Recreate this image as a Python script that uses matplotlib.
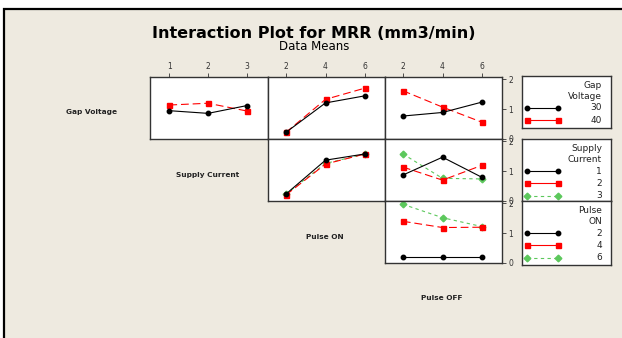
import matplotlib
matplotlib.use('Agg')
import matplotlib.pyplot as plt
from matplotlib.patches import Rectangle
from matplotlib.lines import Line2D

# factor levels
gap_voltage = [30, 40]
supply_current = [1, 2, 3]
pulse_on = [2, 4, 6]
pulse_off = [2, 4, 6]

# MRR data means, one list per trace level
# row 1: Gap Voltage traces
gv_by_sc = [[0.95, 0.86, 1.12], [1.14, 1.20, 0.94]]
gv_by_pon = [[0.22, 1.21, 1.45], [0.22, 1.33, 1.71]]
gv_by_poff = [[0.77, 0.89, 1.24], [1.62, 1.07, 0.56]]
# row 2: Supply Current traces
sc_by_pon = [[0.23, 1.37, 1.58], [0.20, 1.24, 1.58], [0.23, 1.26, 1.58]]
sc_by_poff = [[0.87, 1.47, 0.79], [1.14, 0.70, 1.20], [1.58, 0.76, 0.74]]
# row 3: Pulse ON traces
pon_by_poff = [[0.19, 0.19, 0.19], [1.40, 1.19, 1.20], [1.97, 1.52, 1.22]]

W, H = 622, 338
BG = '#EEEAE0'
EDGE = '#333333'
styles = [
    dict(color='black', ls='-', marker='o', ms=3.2, lw=0.8),
    dict(color='#FF0000', ls=(0, (7, 3.5)), marker='s', ms=3.6, lw=0.8),
    dict(color='#5CC85C', ls=(0, (3, 3)), marker='D', ms=3.4, lw=0.8),
]


def fbox(x0, y0, x1, y1):
    # pixel box (top-left origin) -> figure fraction rect
    return [x0 / W, 1 - y1 / H, (x1 - x0) / W, (y1 - y0) / H]


fig = plt.figure(figsize=(W / 100, H / 100), dpi=100)
fig.patch.set_facecolor('white')
fig.patches.append(Rectangle((4 / W, -0.1), 1.2, 1 - 9 / H + 0.1,
                             transform=fig.transFigure, facecolor=BG,
                             edgecolor='black', lw=1.6, zorder=-5))

fig.text(314 / W, 1 - 33 / H, 'Interaction Plot for MRR (mm3/min)',
         ha='center', va='center', fontsize=11.5, fontweight='bold')
fig.text(314 / W, 1 - 47 / H, 'Data Means', ha='center', va='center', fontsize=8.5)

col_x = [150, 268, 385, 502]
row_y = [77, 139, 201, 263]
x_levels = [supply_current, pulse_on, pulse_off]
x_lims = [(0.5, 3.55), (1.1, 7.0), (1.1, 7.0)]

panels = {
    (0, 0): gv_by_sc, (0, 1): gv_by_pon, (0, 2): gv_by_poff,
    (1, 1): sc_by_pon, (1, 2): sc_by_poff,
    (2, 2): pon_by_poff,
}

for (r, c), traces in panels.items():
    ax = fig.add_axes(fbox(col_x[c], row_y[r], col_x[c + 1], row_y[r + 1]))
    ax.set_facecolor('white')
    for i, ys in enumerate(traces):
        ax.plot(x_levels[c], ys, **styles[i], zorder=3 - i)
    ax.set_xlim(*x_lims[c])
    ax.set_ylim(0, 2.08)
    for s in ax.spines.values():
        s.set_color(EDGE)
        s.set_linewidth(1.0)
    if r == 0:
        ax.xaxis.tick_top()
        ax.set_xticks(x_levels[c])
        ax.tick_params(axis='x', length=3, width=0.6, pad=1, labelsize=5.5,
                       colors=EDGE)
    else:
        ax.set_xticks([])
    if c == 2:
        ax.yaxis.tick_right()
        ax.set_yticks([0, 1, 2])
        ax.tick_params(axis='y', length=3, width=0.6, pad=1.5, labelsize=5.5,
                       colors=EDGE)
    else:
        ax.set_yticks([])

# factor names on the diagonal
diag_names = ['Gap Voltage', 'Supply Current', 'Pulse ON', 'Pulse OFF']
diag_pos = [(91, 112), (208, 175), (325, 237), (442, 298)]
for name, (px, py) in zip(diag_names, diag_pos):
    fig.text(px / W, 1 - py / H, name, ha='center', va='center',
             fontsize=5.3, fontweight='bold', color='#222222')

# legend boxes
legends = [
    (['Gap', 'Voltage'], gap_voltage, (522, 76, 611, 128)),
    (['Supply', 'Current'], supply_current, (522, 139, 611, 201)),
    (['Pulse', 'ON'], pulse_on, (522, 201, 611, 265)),
]
for title, levels, (x0, y0, x1, y1) in legends:
    lax = fig.add_axes(fbox(x0, y0, x1, y1))
    lax.set_xlim(x0, x1)
    lax.set_ylim(y1, y0)
    lax.set_xticks([])
    lax.set_yticks([])
    lax.set_facecolor('white')
    for s in lax.spines.values():
        s.set_color(EDGE)
        s.set_linewidth(1.0)
    yy = y0 + 9.5
    for t in title:
        lax.text(x1 - 9, yy, t, ha='right', va='center', fontsize=6.5,
                 color='#222222')
        yy += 11.5
    yy -= 0.5
    for i, lev in enumerate(levels):
        st = dict(styles[i])
        if i == 1:
            st['ls'] = '-'
        lax.add_line(Line2D([x0 + 5, x0 + 36], [yy, yy], **st))
        lax.text(x1 - 9, yy, str(lev), ha='right', va='center', fontsize=6.5,
                 color='#222222')
        yy += 12.3

fig.savefig('out.png', dpi=100, facecolor=fig.get_facecolor())
